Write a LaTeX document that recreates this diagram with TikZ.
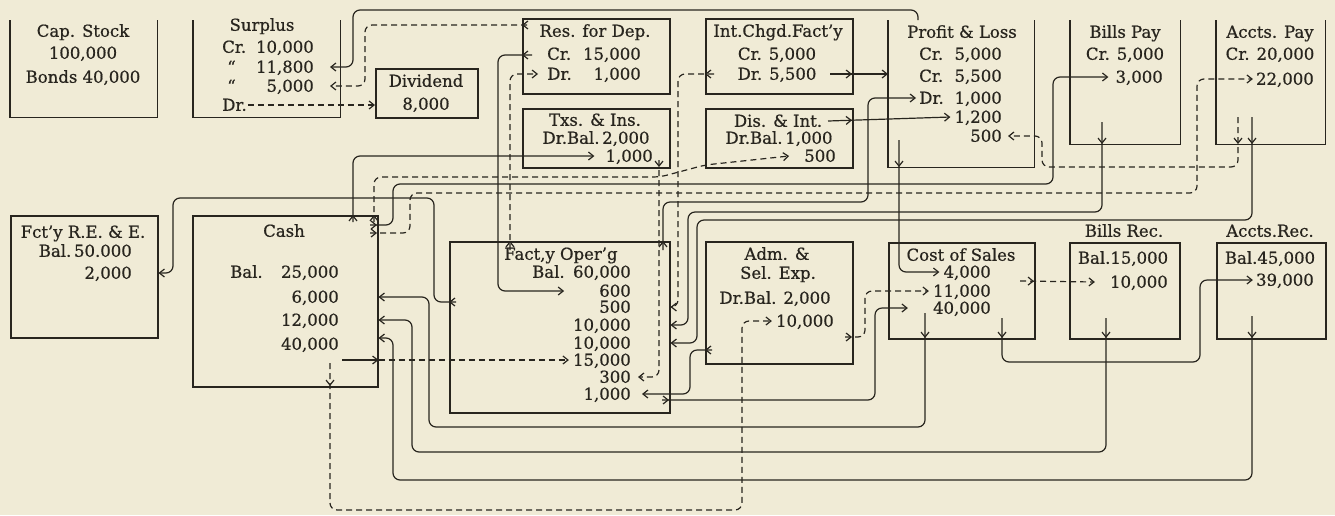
\documentclass[tikz,border=0pt]{standalone}
\usepackage{fontspec}
\setmainfont[FakeBold=0.7]{DejaVu Serif}
\usetikzlibrary{arrows.meta, decorations.markings}
\definecolor{paper}{RGB}{240,235,214}
\definecolor{ink}{RGB}{40,37,30}

\begin{document}
\begin{tikzpicture}[x=1pt, y=-1pt, >={Straight Barb[length=5pt,width=8pt]},
  acct/.style={draw=ink, line width=1.5pt, inner sep=0pt, anchor=north west},
  tacct/.style={inner sep=0pt, anchor=north west},
  ent/.style={inner sep=1pt, text height=12.5pt, text depth=1pt, text=ink, font=\fontsize{16.5}{19}\selectfont},
  flow/.style={->, draw=ink, line width=1.2pt, rounded corners=7pt},
  cut/.style={dash pattern=on 6pt off 4pt},
  leave/.style={postaction={decorate, decoration={markings, mark=at position #1 with {\arrow{>}}}}}]
  \fill[paper] (0,0) rectangle (1335,515);

  % Konten (oben offen)
  \node[tacct, minimum width=147pt, minimum height=97pt] (cap) at (10,20) {};
  \node[tacct, minimum width=147pt, minimum height=97pt] (sur) at (193,20) {};
  \node[tacct, minimum width=146pt, minimum height=147pt] (pl) at (888,20) {};
  \node[tacct, minimum width=110pt, minimum height=124pt] (bp) at (1070,20) {};
  \node[tacct, minimum width=109pt, minimum height=124pt] (ap) at (1216,20) {};
  \foreach \b in {cap,sur,pl,bp,ap}
    \draw[ink, line width=1.5pt] (\b.north west) -- (\b.south west) -- (\b.south east) -- (\b.north east);

  % Konten (geschlossen)
  \node[acct, minimum width=102pt, minimum height=49pt] (div) at (375,68) {};
  \node[acct, minimum width=147pt, minimum height=75pt] (res) at (522,18) {};
  \node[acct, minimum width=147pt, minimum height=75pt] (icf) at (705,18) {};
  \node[acct, minimum width=147pt, minimum height=59pt] (txs) at (522,108) {};
  \node[acct, minimum width=147pt, minimum height=59pt] (dis) at (705,108) {};
  \node[acct, minimum width=147pt, minimum height=122pt] (fre) at (10,215) {};
  \node[acct, minimum width=185pt, minimum height=171pt] (cash) at (192,215) {};
  \node[acct, minimum width=220pt, minimum height=171pt] (fo) at (449,241) {};
  \node[acct, minimum width=147pt, minimum height=122pt] (adm) at (705,241) {};
  \node[acct, minimum width=146pt, minimum height=96pt] (cos) at (888,242) {};
  \node[acct, minimum width=110pt, minimum height=96pt] (br) at (1069,242) {};
  \node[acct, minimum width=109pt, minimum height=96pt] (ar) at (1216,242) {};

  % Eintraege
  \node[ent] (capT) at (83,31) {Cap. Stock};
  \node[ent] (capA) at (83,53) {100,000};
  \node[ent] (capB) at (83,77) {Bonds 40,000};

  \node[ent] (surT) at (262,25) {Surplus};
  \node[ent, anchor=west] (surCr) at (221,47) {Cr.};
  \node[ent, anchor=east] (surA) at (315,47) {10,000};
  \node[ent, anchor=west] (surQ1) at (226,67) {“};
  \node[ent, anchor=east] (surB) at (315,67) {11,800};
  \node[ent, anchor=west] (surQ2) at (226,86) {“};
  \node[ent, anchor=east] (surC) at (315,86) {5,000};
  \node[ent, anchor=west] (surDr) at (221,105) {Dr.};

  \node[ent] (divT) at (426,81) {Dividend};
  \node[ent] (divA) at (426,104) {8,000};

  \node[ent] (resT) at (595,31) {Res. for Dep.};
  \node[ent, anchor=west] (resCr) at (546,54) {Cr.};
  \node[ent, anchor=east] (resA) at (642,54) {15,000};
  \node[ent, anchor=west] (resDr) at (546,74) {Dr.};
  \node[ent, anchor=east] (resB) at (642,74) {1,000};

  \node[ent] (icfT) at (778,31) {Int.Chgd.Fact'y};
  \node[ent] (icfCr) at (777,54) {Cr. 5,000};
  \node[ent] (icfDr) at (777,74) {Dr. 5,500};

  \node[ent] (txsT) at (595,120) {Txs. \& Ins.};
  \node[ent] (txsBal) at (596,138) {Dr.Bal.\,2,000};
  \node[ent, anchor=east] (txsA) at (654,156) {1,000};

  \node[ent] (disT) at (778,121) {Dis. \& Int.};
  \node[ent] (disBal) at (779,138) {Dr.Bal.\,1,000};
  \node[ent, anchor=east] (disA) at (837,156) {500};

  \node[ent] (plT) at (962,32) {Profit \& Loss};
  \node[ent, anchor=west] (plCr1) at (918,54) {Cr.};
  \node[ent, anchor=east] (plA) at (1003,54) {5,000};
  \node[ent, anchor=west] (plCr2) at (918,76) {Cr.};
  \node[ent, anchor=east] (plB) at (1003,76) {5,500};
  \node[ent, anchor=west] (plDr) at (918,98) {Dr.};
  \node[ent, anchor=east] (plC) at (1003,98) {1,000};
  \node[ent, anchor=east] (plD) at (1003,117) {1,200};
  \node[ent, anchor=east] (plE) at (1003,136) {500};

  \node[ent] (bpT) at (1125,32) {Bills Pay};
  \node[ent] (bpCr) at (1125,54) {Cr. 5,000};
  \node[ent, anchor=east] (bpA) at (1164,77) {3,000};

  \node[ent] (apT) at (1270,32) {Accts. Pay};
  \node[ent] (apCr) at (1270,54) {Cr. 20,000};
  \node[ent, anchor=east] (apA) at (1315,79) {22,000};

  \node[ent] (freT) at (83,232) {Fct'y R.E. \& E.};
  \node[ent, anchor=east] (freBal) at (133,251) {Bal.\,50.000};
  \node[ent, anchor=east] (freA) at (133,273) {2,000};

  \node[ent] (cashT) at (284,231) {Cash};
  \node[ent, anchor=west] (cashBal) at (229,272) {Bal.};
  \node[ent, anchor=east] (cashA) at (340,272) {25,000};
  \node[ent, anchor=east] (cashB) at (340,297) {6,000};
  \node[ent, anchor=east] (cashC) at (340,320) {12,000};
  \node[ent, anchor=east] (cashD) at (340,344) {40,000};

  \node[ent, anchor=west] (foT) at (503,254) {Fact,y Oper'g};
  \node[ent, anchor=west] (foBal) at (531,272) {Bal.};
  \node[ent, anchor=east] (foA) at (632,272) {60,000};
  \node[ent, anchor=east] (foB) at (632,291) {600};
  \node[ent, anchor=east] (foC) at (632,307) {500};
  \node[ent, anchor=east] (foD) at (632,325) {10,000};
  \node[ent, anchor=east] (foE) at (632,343) {10,000};
  \node[ent, anchor=east] (foF) at (632,360) {15,000};
  \node[ent, anchor=east] (foG) at (632,377) {300};
  \node[ent, anchor=east] (foH) at (632,394) {1,000};

  \node[ent] (admT) at (777,254) {Adm. \&};
  \node[ent] (admT2) at (778,273) {Sel. Exp.};
  \node[ent] (admBal) at (775,298) {Dr.Bal. 2,000};
  \node[ent, anchor=east] (admA) at (835,321) {10,000};

  \node[ent] (cosT) at (961,255) {Cost of Sales};
  \node[ent, anchor=east] (cosA) at (992,272) {4,000};
  \node[ent, anchor=east] (cosB) at (992,291) {11,000};
  \node[ent, anchor=east] (cosC) at (992,308) {40,000};

  \node[ent] (brT) at (1124,231) {Bills Rec.};
  \node[ent] (brBal) at (1123,258) {Bal.15,000};
  \node[ent, anchor=east] (brA) at (1169,282) {10,000};

  \node[ent] (arT) at (1270,231) {Accts.Rec.};
  \node[ent] (arBal) at (1270,258) {Bal.45,000};
  \node[ent, anchor=east] (arA) at (1315,280) {39,000};

  % Ausgangspunkte
  \coordinate (plTop) at (918,20);
  \coordinate (resL1) at (527,25);
  \coordinate (resL2) at (532,55);
  \coordinate (foTop1) at (510,250);
  \coordinate (foTop2) at (663,250);
  \coordinate (cashTop1) at (353,222);
  \coordinate (cashTop2) at (374,222);
  \coordinate (cashR1) at (370,225);
  \coordinate (cashR2) at (370,233);
  \coordinate (cashIn) at (342,360);
  \coordinate (cashBot) at (330,363);
  \coordinate (txsBot) at (659,160);
  \coordinate (foL) at (456,302);
  \coordinate (foR) at (662,400);
  \coordinate (cosBot1) at (925,313);
  \coordinate (cosBot2) at (1002,318);
  \coordinate (cosR) at (1020,281);
  \coordinate (brBot) at (1106,318);
  \coordinate (arBot) at (1252,316);
  \coordinate (icfL) at (714,74);
  \coordinate (icfR) at (830,74);
  \coordinate (disR) at (828,121);
  \coordinate (bpBot) at (1102,122);
  \coordinate (apBot1) at (1238,117);
  \coordinate (apBot2) at (1252,117);
  \coordinate (plBot) at (899,140);
  \coordinate (admR) at (845,337);
  \coordinate (admL) at (712,350);

  % Buchungen, obere Reihe
  \draw[flow] (plTop) |- (353,10) |- ([xshift=15pt]surB.east);
  \draw[flow, cut, leave=5pt] (resL1) -| (365,86) -- ([xshift=15pt]surC.east);
  \draw[flow, cut] (surDr.east) -- (div.west |- surDr.east);
  \draw[flow, leave=10pt] (resL2) -| (498,291) -- ([xshift=-34pt]foB.west);
  \draw[flow, cut, leave=9pt] (foTop1) |- ([xshift=-8pt]resDr.west);
  \draw[flow, leave=22pt] (icfR) -- (pl.west |- icfR);
  \draw[flow, cut, leave=9pt] (icfL) -| (678,307) -- (fo.east |- foC);
  \draw[flow, leave=24pt] (disR) -- ([xshift=-3pt]plD.west);
  \draw[flow, leave=27pt] (plBot) |- ([xshift=-3pt]cosA.west);

  % Kasse
  \draw[flow, leave=7pt] (cashTop1) |- ([xshift=-10pt]txsA.west);
  \draw[flow, cut, leave=7pt] (cashTop2) |- (660,177) -- (705,165) -- ([xshift=-14pt]disA.west);
  \draw[flow, leave=7pt] (cashR1) -| (393,184) -| (1053,77) -- ([xshift=-6pt]bpA.west);
  \draw[flow, cut, leave=7pt] (cashR2) -| (410,193) -| (1197,79) -- ([xshift=-2pt]apA.west);
  \draw[flow] (cashIn) -- (cash.east |- cashIn);
  \draw[flow, cut] (cash.east |- cashIn) -- ([xshift=-3pt]foF.west);
  \draw[flow, cut, leave=23pt] (cashBot) |- (742,510) |- ([xshift=-3pt]admA.west);

  % Fabrik
  \draw[flow, cut, leave=7pt] (txsBot) |- ([xshift=6pt]foG.east);
  \draw[flow, leave=7pt] (foL) -| (434,198) -| (173,273) -- (fre.east |- freA);
  \draw[flow, leave=9pt] (foTop2) |- (868,202) |- ([xshift=-2pt]plDr.west);
  \draw[flow, leave=7pt] (foR) -| (875,308) -- ([xshift=-24pt]cosC.west);
  \draw[flow, leave=22pt] (bpBot) |- (688,212) |- (fo.east |- foD);
  \draw[flow, leave=27pt] (apBot2) |- (697,220) |- (fo.east |- foE);
  \draw[flow, cut, leave=27pt] (apBot1) |- (1042,167) |- ([xshift=5pt]plE.east);
  \draw[flow, leave=7pt] (admL) -| (690,394) -- ([xshift=10pt]foH.east);
  \draw[flow, cut, leave=7pt] (admR) -| (865,291) -- ([xshift=-3pt]cosB.west);

  % Rueckfluss zur Kasse
  \draw[flow, leave=25pt] (cosBot1) |- (429,427) |- (cash.east |- cashB);
  \draw[flow, leave=20pt] (brBot) |- (412,452) |- (cash.east |- cashC);
  \draw[flow, leave=22pt] (arBot) |- (393,480) |- ([yshift=6pt]cash.east |- cashD);
  \draw[flow, cut, leave=14pt] (cosR) -- ([xshift=-14pt]brA.west);
  \draw[flow, leave=20pt] (cosBot2) |- (1200,362) |- ([xshift=-2pt]arA.west);
\end{tikzpicture}
\end{document}
